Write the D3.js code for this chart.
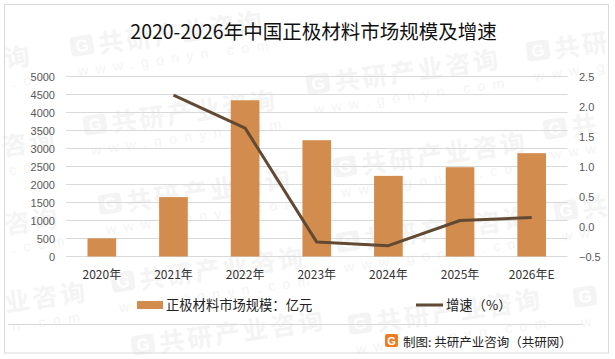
<!DOCTYPE html>
<html>
<head>
<meta charset="utf-8">
<script src="https://cdn.jsdelivr.net/npm/d3@7"></script>
<style>
  html, body { margin: 0; padding: 0; background: #fff; }
  svg { display: block; }
  text { font-family: "Noto Sans CJK SC", "Noto Sans", sans-serif; }
  .num { font-family: "Liberation Sans", sans-serif; }
</style>
</head>
<body>
<div id="chart"></div>
<script>
// chart data
var years = ["2020年", "2021年", "2022年", "2023年", "2024年", "2025年", "2026年E"];
var marketSize = [505, 1650, 4340, 3230, 2240, 2480, 2870];
var growthYears = ["2021年", "2022年", "2023年", "2024年", "2025年", "2026年E"];
var growth = [2.19, 1.64, -0.26, -0.32, 0.10, 0.15];
var leftTicks = [0, 500, 1000, 1500, 2000, 2500, 3000, 3500, 4000, 4500, 5000];
var rightTicks = [-0.5, 0, 0.5, 1, 1.5, 2, 2.5];

var barColor = "#d28c4e", lineColor = "#614933", markColor = "#f4f4f4";

var width = 615, height = 359;
var margin = {top: 76.5, right: 47.5, bottom: 102.5, left: 66};

var svg = d3.select("#chart").append("svg")
  .attr("width", width)
  .attr("height", height);

svg.append("rect").attr("width", width).attr("height", height).attr("fill", "#fff");

// watermark stamps: x, baseline y, big text, small text. logo only when the stamp starts with one
var stamps = [
  [72, 57, "共研产业咨询", "www.gonyn.com", true],
  [85, 136, "共研产业咨询", "www.gonyn.com", true],
  [100, 215, "共研产业咨询", "www.gonyn.com", true],
  [113, 293, "共研产业咨询", "www.gonyn.com", true],
  [133, 356, "共研产业咨询", "", true],
  [308, 95, "共研产业咨询", "www.gonyn.com", true],
  [335, 178, "共研产业咨询", "www.gonyn.com", true],
  [338, 253, "共研产业咨询", "www.gonyn.com", true],
  [350, 335, "共研产业咨询", "www.gonyn.com", true],
  [528, 62, "共研", "www.g", true],
  [545, 140, "共", "www", true],
  [556, 222, "共", "ww", true],
  [575, 308, "", "w", true],
  [6, 68, "询", ".om", false],
  [3, 156, "咨询", "com", false],
  [6, 234, "咨询", ".com", false],
  [6, 312, "业咨询", "n.com", false]
];
var wm = svg.selectAll(".watermark")
  .data(stamps)
  .enter().append("g")
  .attr("class", "watermark")
  .attr("transform", function(d) { return "translate(" + d[0] + "," + d[1] + ") rotate(-8)"; })
  .attr("fill", markColor);
wm.filter(function(d) { return d[4]; }).append("rect")
  .attr("y", -20).attr("width", 23).attr("height", 20).attr("rx", 4);
wm.filter(function(d) { return d[4]; }).append("text")
  .attr("x", 11.5).attr("y", -4).attr("text-anchor", "middle")
  .attr("class", "num").attr("font-size", 17).attr("font-weight", 700)
  .attr("fill", "#fff").text("G");
wm.append("text")
  .attr("x", function(d) { return d[4] ? 28 : 0; })
  .attr("font-size", 25)
  .attr("font-weight", 700)
  .attr("letter-spacing", 3)
  .text(function(d) { return d[2]; });
wm.append("text")
  .attr("class", "num")
  .attr("x", 4)
  .attr("y", 20)
  .attr("font-size", 14)
  .attr("letter-spacing", 7.5)
  .text(function(d) { return d[3]; });

// outer frame
svg.append("rect")
  .attr("x", 4.5).attr("y", 4.5)
  .attr("width", 604).attr("height", 348.5)
  .attr("fill", "none")
  .attr("stroke", "#d9d9d9")
  .attr("stroke-width", 1);

var plotW = width - margin.left - margin.right,
  plotH = height - margin.top - margin.bottom;

var xScale = d3.scaleBand().domain(years).range([0, plotW]).paddingInner(0.6).paddingOuter(0.3);
var yLeft = d3.scaleLinear().domain([0, 5000]).range([plotH, 0]);
var yRight = d3.scaleLinear().domain([-0.5, 2.5]).range([plotH, 0]);

var chart = svg.append("g")
  .attr("transform", "translate(" + margin.left + "," + margin.top + ")");

// horizontal grid lines
chart.selectAll(".grid")
  .data(leftTicks)
  .enter().append("line")
  .attr("class", "grid")
  .attr("x1", 0)
  .attr("x2", plotW)
  .attr("y1", function(d) { return Math.round(yLeft(d)); })
  .attr("y2", function(d) { return Math.round(yLeft(d)); })
  .attr("stroke", "#d9d9d9")
  .attr("stroke-width", 1);

// bars
chart.selectAll(".bar")
  .data(marketSize)
  .enter().append("rect")
  .attr("class", "bar")
  .attr("x", function(d, i) { return xScale(years[i]); })
  .attr("y", function(d) { return yLeft(d); })
  .attr("width", xScale.bandwidth())
  .attr("height", function(d) { return plotH - yLeft(d); })
  .attr("fill", barColor);

// growth line
var lineModel = d3.line()
  .x(function(d, i) { return xScale(growthYears[i]) + xScale.bandwidth() / 2; })
  .y(function(d) { return yRight(d); });

chart.append("path")
  .datum(growth)
  .attr("d", lineModel)
  .attr("fill", "none")
  .attr("stroke", lineColor)
  .attr("stroke-width", 3)
  .attr("stroke-linejoin", "round");

// axes, no domain line or tick marks
var axisLeft = d3.axisLeft(yLeft).tickValues(leftTicks).tickSize(0).tickPadding(11).tickFormat(d3.format("d"));
var axisRight = d3.axisRight(yRight).tickValues(rightTicks).tickSize(0).tickPadding(11.5).tickFormat(d3.format(".1f"));
var axisBottom = d3.axisBottom(xScale).tickSize(0).tickPadding(14);

var gl = chart.append("g").call(axisLeft);
var gr = chart.append("g").attr("transform", "translate(" + plotW + ",0)").call(axisRight);
var gb = chart.append("g").attr("transform", "translate(0," + plotH + ")").call(axisBottom);
[gl, gr, gb].forEach(function(g) { g.select(".domain").remove(); });
[gl, gr].forEach(function(g) {
  g.selectAll("text")
    .style("font-family", "'Liberation Sans', sans-serif")
    .attr("font-size", 11)
    .attr("fill", "#595959");
});
gb.selectAll("text").attr("font-size", 12).attr("fill", "#333");

// title
svg.append("text")
  .attr("x", 313.5)
  .attr("y", 39)
  .attr("text-anchor", "middle")
  .attr("font-size", 19.5)
  .attr("fill", "#111")
  .text("2020-2026年中国正极材料市场规模及增速");

// legend
svg.append("rect").attr("x", 137).attr("y", 301).attr("width", 26).attr("height", 8).attr("fill", barColor);
svg.append("text").attr("x", 166).attr("y", 310).attr("font-size", 13.3).attr("fill", "#222").text("正极材料市场规模：亿元");
svg.append("line").attr("x1", 416).attr("x2", 443).attr("y1", 305).attr("y2", 305)
  .attr("stroke", lineColor).attr("stroke-width", 3);
svg.append("text").attr("x", 446).attr("y", 310).attr("font-size", 13.3).attr("fill", "#222").text("增速（%）");

// footer rule and source
svg.append("line").attr("x1", 8).attr("x2", 583).attr("y1", 324.5).attr("y2", 324.5).attr("stroke", "#d9d9d9");
svg.append("rect").attr("x", 385).attr("y", 334).attr("width", 13).attr("height", 13).attr("rx", 2).attr("fill", "#ee7a22");
svg.append("text").attr("x", 391.5).attr("y", 345).attr("text-anchor", "middle").attr("class", "num").attr("font-size", 11)
  .attr("font-weight", 700).attr("fill", "#fff").text("G");
svg.append("text").attr("x", 403).attr("y", 347).attr("font-size", 12.5).attr("fill", "#222").text("制图: 共研产业咨询（共研网）");
</script>
</body>
</html>
